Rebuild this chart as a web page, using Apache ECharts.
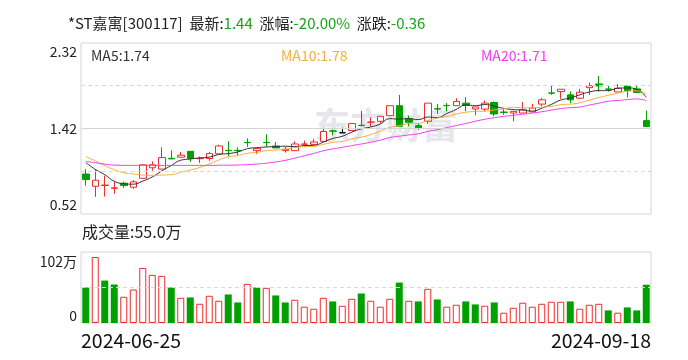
<!DOCTYPE html>
<html><head><meta charset="utf-8">
<script src="https://cdn.jsdelivr.net/npm/echarts@6/dist/echarts.min.js"></script>
<style>html,body{margin:0;padding:0;background:#fff}#c{width:688px;height:360px}</style>
</head><body><div id="c"></div>
<script>
const dates = ['2024-06-25','2024-06-26','2024-06-27','2024-06-28',
'2024-07-01','2024-07-02','2024-07-03','2024-07-04','2024-07-05',
'2024-07-08','2024-07-09','2024-07-10','2024-07-11','2024-07-12',
'2024-07-15','2024-07-16','2024-07-17','2024-07-18','2024-07-19',
'2024-07-22','2024-07-23','2024-07-24','2024-07-25','2024-07-26',
'2024-07-29','2024-07-30','2024-07-31','2024-08-01','2024-08-02',
'2024-08-05','2024-08-06','2024-08-07','2024-08-08','2024-08-09',
'2024-08-12','2024-08-13','2024-08-14','2024-08-15','2024-08-16',
'2024-08-19','2024-08-20','2024-08-21','2024-08-22','2024-08-23',
'2024-08-26','2024-08-27','2024-08-28','2024-08-29','2024-08-30',
'2024-09-02','2024-09-03','2024-09-04','2024-09-05','2024-09-06',
'2024-09-09','2024-09-10','2024-09-11','2024-09-12','2024-09-13',
'2024-09-18'];
const opens = [0.941,0.812,0.820,0.790,0.844,0.802,0.896,1.007,0.993,1.106,
1.118,1.180,1.102,1.104,1.153,1.190,1.190,1.274,1.187,1.274,
1.236,1.187,1.187,1.254,1.253,1.285,1.395,1.375,1.399,1.454,
1.486,1.496,1.555,1.660,1.521,1.451,1.496,1.628,1.663,1.660,
1.687,1.625,1.625,1.694,1.593,1.583,1.583,1.594,1.677,1.795,
1.809,1.774,1.739,1.850,1.889,1.836,1.805,1.868,1.837,1.503];
const closes = [0.882,0.875,0.825,0.795,0.819,0.858,1.038,1.038,1.114,1.100,
1.139,1.104,1.105,1.156,1.236,1.187,1.187,1.271,1.208,1.271,
1.215,1.201,1.257,1.257,1.278,1.389,1.392,1.375,1.472,1.451,
1.489,1.548,1.660,1.444,1.486,1.427,1.687,1.625,1.660,1.705,
1.663,1.646,1.687,1.573,1.590,1.600,1.618,1.635,1.722,1.792,
1.833,1.722,1.802,1.871,1.868,1.833,1.844,1.819,1.800,1.440];
const lows = [0.819,0.701,0.704,0.733,0.795,0.785,0.893,0.976,0.993,1.100,
1.118,1.069,1.056,1.080,1.153,1.125,1.139,1.226,1.153,1.226,
1.215,1.167,1.187,1.229,1.253,1.285,1.347,1.375,1.399,1.444,
1.444,1.479,1.555,1.444,1.444,1.403,1.469,1.573,1.600,1.660,
1.600,1.559,1.600,1.548,1.566,1.496,1.583,1.594,1.653,1.774,
1.733,1.687,1.729,1.774,1.809,1.809,1.805,1.746,1.792,1.440];
const highs = [0.993,0.993,0.923,0.864,0.861,0.878,1.040,1.073,1.222,1.191,
1.173,1.180,1.125,1.173,1.250,1.285,1.222,1.316,1.208,1.358,
1.278,1.229,1.285,1.292,1.312,1.430,1.409,1.430,1.479,1.604,
1.538,1.548,1.660,1.774,1.555,1.479,1.687,1.677,1.687,1.739,
1.750,1.646,1.715,1.705,1.625,1.600,1.698,1.680,1.743,1.868,
1.833,1.809,1.837,1.903,1.972,1.868,1.889,1.868,1.878,1.608];
const ma5 = [1.062,0.990,0.934,0.865,0.839,0.834,0.867,0.910,0.973,1.030,
1.086,1.099,1.111,1.119,1.146,1.156,1.173,1.207,1.218,1.225,
1.230,1.233,1.230,1.240,1.242,1.276,1.315,1.338,1.381,1.416,
1.436,1.467,1.524,1.518,1.525,1.513,1.541,1.534,1.577,1.621,
1.668,1.660,1.672,1.655,1.632,1.619,1.614,1.603,1.633,1.673,
1.720,1.741,1.774,1.804,1.819,1.819,1.844,1.847,1.833,1.747];
const ma10 = [1.125,1.080,1.030,0.986,0.955,0.941,0.930,0.927,0.930,0.934,
0.960,0.983,1.010,1.046,1.088,1.121,1.136,1.159,1.169,1.186,
1.193,1.203,1.219,1.229,1.233,1.253,1.274,1.284,1.311,1.329,
1.356,1.391,1.431,1.450,1.471,1.474,1.504,1.529,1.548,1.573,
1.591,1.600,1.603,1.616,1.626,1.644,1.637,1.638,1.644,1.653,
1.670,1.677,1.689,1.719,1.746,1.770,1.792,1.811,1.818,1.783];
const ma20 = [1.075,1.060,1.045,1.035,1.032,1.032,1.032,1.032,1.032,1.032,
1.032,1.032,1.032,1.032,1.033,1.034,1.036,1.040,1.046,1.055,
1.068,1.085,1.108,1.133,1.158,1.185,1.205,1.222,1.240,1.257,
1.275,1.297,1.325,1.339,1.352,1.364,1.389,1.407,1.429,1.451,
1.473,1.496,1.517,1.533,1.548,1.559,1.570,1.583,1.596,1.613,
1.630,1.639,1.646,1.667,1.686,1.707,1.714,1.724,1.731,1.714];
const volumes = [51.0,94.8,61.0,55.3,37.7,48.1,79.1,69.1,67.7,51.0,
36.2,36.7,27.6,39.1,31.9,41.0,29.5,56.2,51.0,50.5,
39.6,29.5,33.4,23.4,20.5,36.2,31.0,24.8,34.8,42.4,
31.9,23.4,34.8,58.1,31.9,31.0,49.1,33.8,23.4,26.2,
31.0,26.7,24.8,29.5,14.8,21.9,29.1,23.4,27.6,30.5,
30.5,31.0,20.5,26.2,27.6,18.1,14.8,22.4,18.1,55.0];
const volumeUp = [0,1,0,0,1,1,1,1,1,0, 1,0,1,1,1,0,0,1,0,1,
0,0,1,1,1,1,0,1,1,0, 1,1,1,0,1,0,1,0,1,1,
0,0,1,0,1,1,1,1,1,1, 1,0,1,1,1,0,1,0,0,0];
const priceLabels = [0.52, 1.42, 2.32];
const priceDashed = [0.97, 1.87];
const priceSolid = [1.42];
const volumeLabels = [0, 102];
const volumeDashed = [51];
const stockName = '*ST嘉寓[300117]';
const latest = '1.44', pctChange = '-20.00%', change = '-0.36';
const maLabels = ['MA5:1.74', 'MA10:1.78', 'MA20:1.71'];
const volumeLabel = '成交量:55.0万';

const RED = '#f02b2b', GREEN = '#00a000';
const FONT = '"Noto Sans CJK SC", "Noto Sans", sans-serif';

const candleData = dates.map((d, i) => {
  const item = { value: [opens[i], closes[i], lows[i], highs[i]] };
  if (opens[i] === closes[i]) item.itemStyle = { color: '#000', borderColor: '#000', color0: '#000', borderColor0: '#000' };
  return item;
});
const volData = volumes.map((v, i) => ({
  value: v,
  itemStyle: volumeUp[i] ? { color: '#fff', borderColor: RED, borderWidth: 1 } : { color: GREEN, borderColor: GREEN, borderWidth: 0 }
}));

const chart = echarts.init(document.getElementById('c'), null, { renderer: 'canvas' });
chart.setOption({
  animation: false,
  backgroundColor: '#fff',
  title: [
    { left: 63, top: 11, text: '{t|' + stockName + '}  {t|最新:}{g|' + latest + '}  {t|涨幅:}{g|' + pctChange + '}  {t|涨跌:}{g|' + change + '}',
      textStyle: { fontSize: 15, fontFamily: FONT, fontWeight: 'normal', color: '#222',
        rich: { t: { fontSize: 15, color: '#222', fontFamily: FONT }, g: { fontSize: 15, color: '#14a514', fontFamily: FONT } } } },
    { left: 86, top: 44, text: maLabels[0], textStyle: { fontSize: 14, fontWeight: 'normal', color: '#333', fontFamily: FONT } },
    { left: 276, top: 44, text: maLabels[1], textStyle: { fontSize: 14, fontWeight: 'normal', color: '#f5b03a', fontFamily: FONT } },
    { left: 476, top: 44, text: maLabels[2], textStyle: { fontSize: 14, fontWeight: 'normal', color: '#f23cf2', fontFamily: FONT } },
    { left: 77, top: 219, text: volumeLabel, textStyle: { fontSize: 16, fontWeight: 'normal', color: '#222', fontFamily: FONT } }
  ],
  graphic: [
    { type: 'text', left: 314, top: 107, z: 0, silent: true,
      style: { text: '东方财富', fontSize: 36, fontWeight: 'bold', fill: '#e6e6ec', fontFamily: FONT } }
  ],
  grid: [
    { left: 81, right: 37, top: 43, height: 171, show: true, borderColor: '#d4d4dc', borderWidth: 1, backgroundColor: 'transparent' },
    { left: 81, right: 37, top: 252, height: 71, show: true, borderColor: '#d4d4dc', borderWidth: 1, backgroundColor: 'transparent' }
  ],
  xAxis: [
    { type: 'category', data: dates, gridIndex: 0, boundaryGap: true, axisLine: { show: false }, axisTick: { show: false }, axisLabel: { show: false }, splitLine: { show: false } },
    { type: 'category', data: dates, gridIndex: 1, boundaryGap: true, axisLine: { show: false }, axisTick: { show: false }, axisLabel: { show: false }, splitLine: { show: false } },
    { type: 'category', data: dates, gridIndex: 1, boundaryGap: false, position: 'bottom', axisLine: { show: false }, axisTick: { show: false }, splitLine: { show: false },
      axisLabel: { show: true, interval: (idx) => idx === 0 || idx === dates.length - 1, alignMinLabel: 'left', alignMaxLabel: 'right',
        fontSize: 19.5, color: '#111', fontFamily: FONT, margin: 8 } }
  ],
  yAxis: [
    { type: 'value', gridIndex: 0, min: 0.52, max: 2.32, scale: true, axisLine: { show: false }, axisTick: { show: false }, splitLine: { show: false },
      axisLabel: { customValues: priceLabels, formatter: v => v.toFixed(2), fontSize: 14, color: '#222', fontFamily: FONT, margin: 4,
        verticalAlignMinLabel: 'bottom', verticalAlignMaxLabel: 'top', padding: [2, 0, 2, 0] } },
    { type: 'value', gridIndex: 1, min: 0, max: 102, axisLine: { show: false }, axisTick: { show: false }, splitLine: { show: false },
      axisLabel: { customValues: volumeLabels, formatter: v => v === 0 ? '0' : v + '万', fontSize: 14, color: '#222', fontFamily: FONT, margin: 4,
        verticalAlignMinLabel: 'bottom', verticalAlignMaxLabel: 'top', padding: [3, 0, 0, 0] } }
  ],
  series: [
    { type: 'candlestick', xAxisIndex: 0, yAxisIndex: 0, data: candleData, barWidth: 7,
      itemStyle: { color: '#fff', color0: GREEN, borderColor: RED, borderColor0: GREEN, borderWidth: 1 },
      markLine: { silent: true, symbol: 'none', label: { show: false }, animation: false,
        data: priceDashed.map(v => ({ yAxis: v, lineStyle: { type: [4, 3], color: '#d8d8d8', width: 1 } }))
          .concat(priceSolid.map(v => ({ yAxis: v, lineStyle: { type: 'solid', color: '#d4d4d8', width: 1 } }))) },
      z: 3 },
    { type: 'line', name: 'MA5', xAxisIndex: 0, yAxisIndex: 0, data: ma5, smooth: true, symbol: 'none', lineStyle: { width: 1, color: '#333' }, z: 4 },
    { type: 'line', name: 'MA10', xAxisIndex: 0, yAxisIndex: 0, data: ma10, smooth: true, symbol: 'none', lineStyle: { width: 1, color: '#f5b03a' }, z: 4 },
    { type: 'line', name: 'MA20', xAxisIndex: 0, yAxisIndex: 0, data: ma20, smooth: true, symbol: 'none', lineStyle: { width: 1, color: '#f23cf2' }, z: 4 },
    { type: 'bar', xAxisIndex: 1, yAxisIndex: 1, data: volData, barWidth: 7, z: 3,
      markLine: { silent: true, symbol: 'none', label: { show: false }, animation: false,
        data: volumeDashed.map(v => ({ yAxis: v, lineStyle: { type: [4, 3], color: '#d8d8d8', width: 1 } })) } }
  ]
});
</script></body></html>
